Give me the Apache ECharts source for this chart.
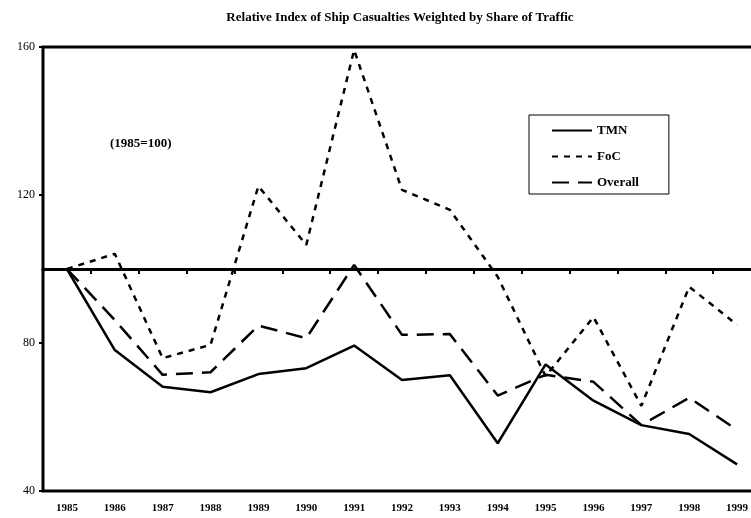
<!DOCTYPE html>
<html>
<head>
<meta charset="utf-8">
<script src="https://cdn.jsdelivr.net/npm/echarts@6/dist/echarts.min.js"></script>
<style>
  html, body { margin: 0; padding: 0; background: #fff; }
  #chart { width: 751px; height: 518px; }
</style>
</head>
<body>
<div id="chart"></div>
<script>
// values, 1985 = 100
const years = ['1985', '1986', '1987', '1988', '1989', '1990', '1991', '1992',
  '1993', '1994', '1995', '1996', '1997', '1998', '1999'];
const tmn = [100, 78.1, 68.2, 66.7, 71.6, 73.2, 79.3, 70.0, 71.3, 52.9, 74.2, 64.4, 57.8, 55.4, 47.2];
const foc = [100, 104.1, 75.9, 79.5, 122.4, 106.5, 159.2, 121.4, 116.0, 97.9, 71.0, 87.0, 63.0, 95.2, 84.9];
const overall = [100, 86.2, 71.4, 72.1, 84.7, 81.3, 101.1, 82.2, 82.4, 65.8, 71.4, 69.5, 57.8, 65.2, 56.5];

const serif = '"Liberation Serif", "DejaVu Serif", serif';
const chart = echarts.init(document.getElementById('chart'));

chart.setOption({
  animation: false,
  title: {
    text: 'Relative Index of Ship Casualties Weighted by Share of Traffic',
    left: 395,
    textAlign: 'center',
    top: 6,
    textStyle: { fontFamily: serif, fontSize: 13, fontWeight: 'bold', color: '#000' }
  },
  legend: {
    orient: 'vertical',
    left: 529,
    top: 115,
    padding: [9, 30, 5, 22],
    itemGap: 13,
    itemWidth: 40,
    itemHeight: 15,
    borderColor: '#000',
    borderWidth: 1,
    itemStyle: { opacity: 0 },
    textStyle: { fontFamily: serif, fontSize: 13, fontWeight: 'bold', color: '#000' },
    data: ['TMN', 'FoC', 'Overall']
  },
  graphic: [{
    type: 'text',
    left: 110,
    top: 137,
    style: { text: '(1985=100)', font: 'bold 13px ' + serif, fill: '#000' }
  }],
  grid: [
    { left: 43, width: 718, top: 47, height: 444, outerBoundsMode: 'none',
      show: true, borderColor: '#000', borderWidth: 3 },
    { left: 43, width: 718, top: 47, height: 222, outerBoundsMode: 'none' }
  ],
  xAxis: [
    {
      type: 'category',
      data: years,
      gridIndex: 0,
      axisLine: { show: false },
      axisTick: { show: false },
      axisLabel: { fontFamily: serif, fontSize: 11, fontWeight: 'bold', color: '#000', margin: 12, interval: 0 }
    },
    {
      // the 100 baseline with its ticks between the years
      type: 'category',
      data: years,
      gridIndex: 1,
      position: 'bottom',
      axisLine: { lineStyle: { color: '#000', width: 3 } },
      axisTick: { show: true, length: 5, lineStyle: { color: '#000', width: 2 } },
      axisLabel: { show: false }
    }
  ],
  yAxis: [
    {
      type: 'value',
      gridIndex: 0,
      min: 40,
      max: 160,
      interval: 40,
      splitLine: { show: false },
      axisLine: { show: false },
      axisTick: { show: true, length: 4, lineStyle: { color: '#000', width: 2 } },
      axisLabel: { fontFamily: serif, fontSize: 12, color: '#000', margin: 8 }
    },
    { type: 'value', gridIndex: 1, show: false, min: 0, max: 1 }
  ],
  series: [
    {
      name: 'TMN', type: 'line', data: tmn, symbol: 'none',
      lineStyle: { color: '#000', width: 2.5, type: 'solid' }, itemStyle: { color: '#000' }
    },
    {
      name: 'FoC', type: 'line', data: foc, symbol: 'none',
      lineStyle: { color: '#000', width: 2.5, type: [6, 6] }, itemStyle: { color: '#000' }
    },
    {
      name: 'Overall', type: 'line', data: overall, symbol: 'none',
      lineStyle: { color: '#000', width: 2.5, type: [17, 9] }, itemStyle: { color: '#000' }
    }
  ]
});
</script>
</body>
</html>
